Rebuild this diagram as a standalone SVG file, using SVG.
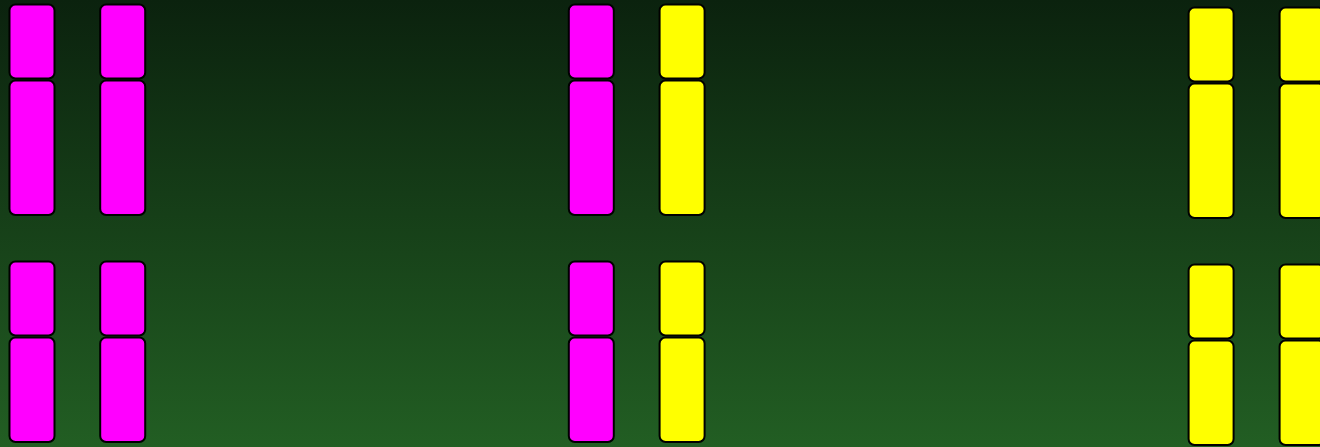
<svg xmlns="http://www.w3.org/2000/svg" width="1320" height="447" viewBox="0 0 1320 447">
<defs>
<linearGradient id="bg" x1="0" y1="0" x2="0" y2="1">
<stop offset="0" stop-color="#0b220e"/>
<stop offset="1" stop-color="#225e23"/>
</linearGradient>
<style>
.m{fill:#ff00ff;stroke:#000;stroke-width:2}
.y{fill:#ffff00;stroke:#000;stroke-width:2}
</style>
</defs>
<rect x="0" y="0" width="1320" height="447" fill="url(#bg)"/>
<g id="n1"><rect class="m" x="9.5" y="4.5" width="45" height="74" rx="6"/><rect class="m" x="9.5" y="80.5" width="45" height="134.5" rx="6"/></g>
<g id="n2"><rect class="m" x="100.2" y="4.5" width="45" height="74" rx="6"/><rect class="m" x="100.2" y="80.5" width="45" height="134.5" rx="6"/></g>
<g id="n3"><rect class="m" x="9.5" y="261.5" width="45" height="74" rx="6"/><rect class="m" x="9.5" y="337.5" width="45" height="104.5" rx="6"/></g>
<g id="n4"><rect class="m" x="100.2" y="261.5" width="45" height="74" rx="6"/><rect class="m" x="100.2" y="337.5" width="45" height="104.5" rx="6"/></g>
<g id="n5"><rect class="m" x="568.8" y="4.5" width="45" height="74" rx="6"/><rect class="m" x="568.8" y="80.5" width="45" height="134.5" rx="6"/></g>
<g id="n6"><rect class="y" x="659.6" y="4.5" width="45" height="74" rx="6"/><rect class="y" x="659.6" y="80.5" width="45" height="134.5" rx="6"/></g>
<g id="n7"><rect class="m" x="568.8" y="261.5" width="45" height="74" rx="6"/><rect class="m" x="568.8" y="337.5" width="45" height="104.5" rx="6"/></g>
<g id="n8"><rect class="y" x="659.6" y="261.5" width="45" height="74" rx="6"/><rect class="y" x="659.6" y="337.5" width="45" height="104.5" rx="6"/></g>
<g id="n9"><rect class="y" x="1188.6" y="7.5" width="45" height="74" rx="6"/><rect class="y" x="1188.6" y="83.5" width="45" height="134.5" rx="6"/></g>
<g id="n10"><rect class="y" x="1279.6" y="7.5" width="45" height="74" rx="6"/><rect class="y" x="1279.6" y="83.5" width="45" height="134.5" rx="6"/></g>
<g id="n11"><rect class="y" x="1188.6" y="264.5" width="45" height="74" rx="6"/><rect class="y" x="1188.6" y="340.5" width="45" height="104.5" rx="6"/></g>
<g id="n12"><rect class="y" x="1279.6" y="264.5" width="45" height="74" rx="6"/><rect class="y" x="1279.6" y="340.5" width="45" height="104.5" rx="6"/></g>
<g id="connectors"/>
</svg>
